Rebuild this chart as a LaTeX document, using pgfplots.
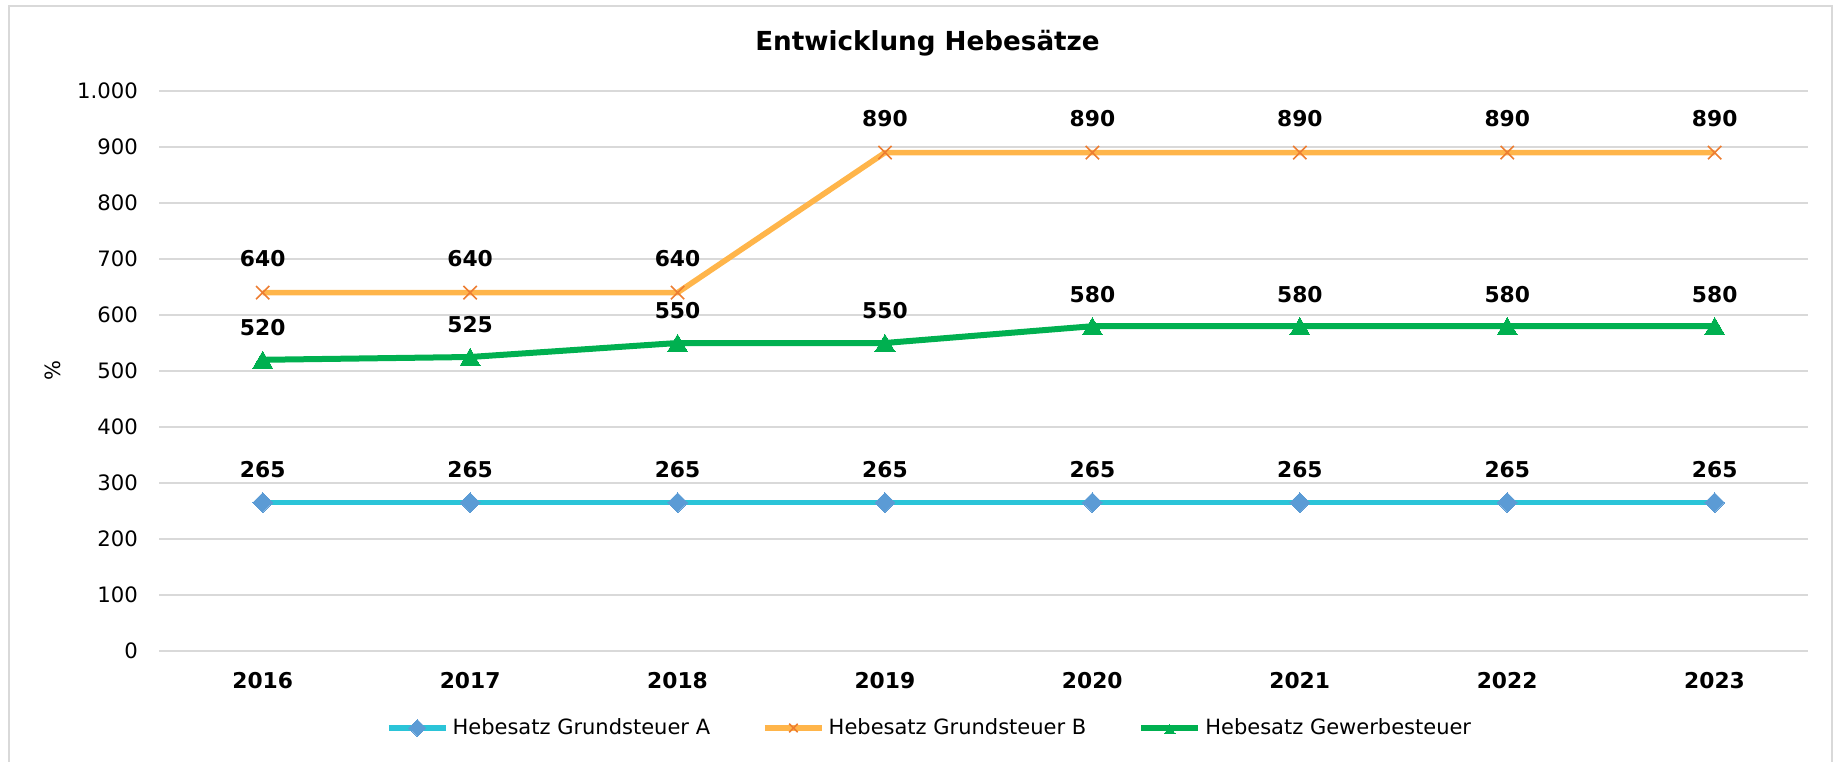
\documentclass[border=0pt]{standalone}
\usepackage{fontspec}
\setmainfont{DejaVu Sans}
\usepackage{pgfplots}
\pgfplotsset{compat=1.18}
\definecolor{cyanL}{HTML}{2BC4D8}
\definecolor{blueM}{HTML}{5B9BD5}
\definecolor{orangeL}{HTML}{FFB54A}
\definecolor{orangeM}{HTML}{ED7D31}
\definecolor{greenL}{HTML}{00B050}
\definecolor{gridc}{HTML}{D9D9D9}
\begin{document}
\begin{tikzpicture}
\path[use as bounding box] (0,0) rectangle (920.5pt,380.5pt);
\draw[color=gridc, line width=0.8pt] (4.5pt,-2pt) rectangle (916pt,377.5pt);
\begin{axis}[
  at={(79.5pt,55pt)}, anchor=south west,
  scale only axis, width=824.5pt, height=280pt,
  xmin=2015.5, xmax=2023.45, ymin=0, ymax=1000,
  xtick={2016,2017,...,2023},
  ytick={0,100,...,1000},
  /pgf/number format/assume math mode=true,
  xticklabel style={/pgf/number format/1000 sep={}, font=\fontsize{10.9}{12}\selectfont\bfseries, yshift=-7pt},
  yticklabel style={/pgf/number format/1000 sep={.}, font=\fontsize{10.6}{12}\selectfont, xshift=-7pt},
  axis line style={draw=none},
  major tick style={draw=none},
  ymajorgrids, grid style={color=gridc, line width=0.7pt},
  clip=false,
  nodes near coords,
  every node near coord/.append style={font=\fontsize{10.9}{12}\selectfont\bfseries, black, yshift=9pt},
  legend columns=3,
  legend style={at={(axis description cs:0.4679,-0.1375)}, anchor=center, draw=none, fill=none,
    font=\fontsize{10.5}{12}\selectfont,
    /tikz/every even column/.append style={column sep=24pt}},
  legend image code/.code={\draw[mark size=3pt, mark repeat=2, mark phase=2] plot coordinates {(0pt,0pt) (14.25pt,0pt) (28.5pt,0pt)};},
]
\addplot[color=cyanL, line width=2.8pt, mark=square*, mark size=3.5pt,
  mark options={fill=blueM, draw=blueM, line width=0pt, rotate=45}]
  coordinates {(2016,265) (2017,265) (2018,265) (2019,265) (2020,265) (2021,265) (2022,265) (2023,265)};
\addlegendentry{Hebesatz Grundsteuer A}
\addplot[color=orangeL, line width=2.8pt, mark=x, mark size=4.7pt,
  mark options={draw=orangeM, line width=0.8pt}]
  coordinates {(2016,640) (2017,640) (2018,640) (2019,890) (2020,890) (2021,890) (2022,890) (2023,890)};
\addlegendentry{Hebesatz Grundsteuer B}
\addplot[color=greenL, line width=3pt, mark=triangle*, mark size=5.8pt,
  mark options={fill=greenL, draw=greenL, line width=0pt, yshift=-1.45pt},
  every node near coord/.append style={yshift=1pt}]
  coordinates {(2016,520) (2017,525) (2018,550) (2019,550) (2020,580) (2021,580) (2022,580) (2023,580)};
\addlegendentry{Hebesatz Gewerbesteuer}
\end{axis}
\node[font=\fontsize{13.1}{15}\selectfont\bfseries] at (463.75pt,359pt) {Entwicklung Hebesätze};
\node[rotate=90, font=\fontsize{10.5}{12}\selectfont] at (26.5pt,195pt) {\%};
\end{tikzpicture}
\end{document}
